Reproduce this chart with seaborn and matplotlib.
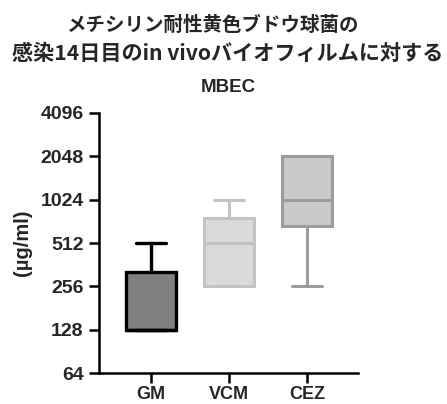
import matplotlib
matplotlib.use("Agg")
import matplotlib.pyplot as plt
import seaborn as sns
import pandas as pd
from matplotlib.ticker import FixedLocator, FixedFormatter, NullLocator

groups = ["GM", "VCM", "CEZ"]
gm_values = [128, 128, 128, 320, 512]
vcm_values = [256, 256, 512, 768, 1024]
cez_values = [256, 672, 1024, 2048, 2048]
fill_colors = ["#808080", "#dadada", "#c9c9c9"]
edge_colors = ["#000000", "#c3c3c3", "#9c9c9c"]
y_ticks = [64, 128, 256, 512, 1024, 2048, 4096]
y_tick_labels = ["64", "128", "256", "512", "1024", "2048", "4096"]
title_lines = ["メチシリン耐性黄色ブドウ球菌の", "感染14日目のin vivoバイオフィルムに対する", "MBEC"]
y_label = "(µg/ml)"

sns.set_style("ticks")
plt.rcParams["font.family"] = ["Liberation Sans", "Noto Sans CJK JP", "DejaVu Sans"]

df = pd.DataFrame({
    "group": ["GM"] * len(gm_values) + ["VCM"] * len(vcm_values) + ["CEZ"] * len(cez_values),
    "value": gm_values + vcm_values + cez_values,
})

fig = plt.figure(figsize=(4.47, 4.04), dpi=100)
ax = fig.add_axes([0.2215, 0.0767, 0.5795, 0.6436])

for g, fc, ec in zip(groups, fill_colors, edge_colors):
    lw = 2.4 if g == "GM" else 2.2
    sns.boxplot(data=df[df["group"] == g], x="group", y="value", order=groups,
                color=fc, linecolor=ec, linewidth=lw, saturation=1, width=0.64,
                whis=(0, 100), log_scale=2, ax=ax, capwidths=0.38,
                medianprops=dict(color=ec, linewidth=lw))

ax.set_yscale("log", base=2)
ax.set_ylim(64, 4096)
ax.set_xlim(-0.667, 2.65)
ax.yaxis.set_major_locator(FixedLocator(y_ticks))
ax.yaxis.set_major_formatter(FixedFormatter(y_tick_labels))
ax.yaxis.set_minor_locator(NullLocator())
ax.set_xlabel("")
ax.set_ylabel(y_label, fontsize=14.5, fontweight="bold", labelpad=6)
for lab in ax.get_yticklabels():
    lab.set_fontweight("bold")
    lab.set_fontsize(14)
for lab in ax.get_xticklabels():
    lab.set_fontweight("bold")
    lab.set_fontsize(13)
ax.tick_params(axis="both", length=7.5, width=1.8, color="black")
ax.tick_params(axis="y", pad=3.5)
ax.tick_params(axis="x", pad=2)
for s in ["left", "bottom"]:
    ax.spines[s].set_linewidth(1.8)
    ax.spines[s].set_color("black")
sns.despine(ax=ax)

title_fam = ["Noto Sans CJK JP", "DejaVu Sans"]
fig.text(212 / 447, 1 - 25 / 404, title_lines[0], ha="center", va="center",
         fontsize=14, fontweight="bold", family=title_fam)
fig.text(228 / 447, 1 - 53 / 404, title_lines[1], ha="center", va="center",
         fontsize=15.2, fontweight="bold", family=title_fam)
fig.text(228 / 447, 1 - 88 / 404, title_lines[2], ha="center", va="center",
         fontsize=13.5, fontweight="bold", family=["Liberation Sans", "DejaVu Sans"])

fig.savefig("out.png", dpi=100)
